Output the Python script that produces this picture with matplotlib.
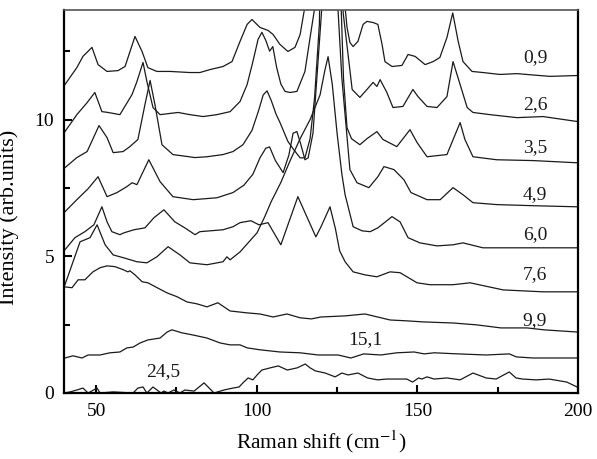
import numpy as np
import matplotlib.pyplot as plt
from matplotlib.ticker import MultipleLocator

# Raman spectra at increasing pressure (GPa), stacked with offsets
labels = ['0,9', '2,6', '3,5', '4,9', '6,0', '7,6', '9,9', '15,1', '24,5']

x_09 = [40.3, 44.0, 45.9, 48.7, 50.6, 53.4, 56.8, 59.0, 62.1, 64.3, 66.1, 68.9, 73.0, 76.1, 79.2, 82.3,
        85.5, 89.5, 92.3, 94.8, 97.0, 98.5, 101.0, 103.5, 105.1, 107.2, 109.7, 111.9, 113.5, 115.0,
        122.0, 127.5, 128.1, 129.0, 130.0, 131.5, 133.1, 134.3, 136.2, 137.7,
        139.0, 139.9, 142.1, 145.2, 147.1, 149.3, 152.4, 154.9, 157.0, 159.2, 161.0, 162.7, 164.2,
        167.0, 170.4, 175.7, 181.0, 186.0, 191.3, 199.7]
y_09 = [11.28, 11.90, 12.31, 12.64, 12.01, 11.76, 11.79, 11.94, 13.04, 12.49, 11.90, 11.76, 11.76, 11.74,
        11.72, 11.72, 11.83, 11.94, 12.12, 12.86, 13.48, 13.66, 13.37, 13.26, 13.11, 12.75, 12.49, 12.64,
        13.11, 14.14, 40.0, 14.10, 13.37, 12.82, 12.67, 12.86, 13.48, 13.59, 13.55,
        13.48, 12.75, 12.12, 11.94, 11.98, 12.38, 12.31, 12.01, 12.12, 12.27, 13.00, 13.90, 12.86, 12.12,
        11.76, 11.72, 11.65, 11.68, 11.63, 11.58, 11.61]

x_26 = [40.3, 44.0, 47.2, 49.6, 51.8, 53.7, 57.4, 61.2, 62.7, 64.6, 65.8, 67.7, 69.9, 75.5, 79.2, 83.3,
        87.6, 91.7, 94.8, 97.0, 98.8, 100.4, 101.6, 102.8, 104.0, 105.0, 106.2, 107.5, 108.8, 110.4,
        112.5, 115.0, 116.6, 118.1, 122.3, 126.9, 129.7, 132.1, 134.3, 136.2, 137.4, 138.4, 140.5, 142.4,
        145.5, 148.6, 150.2, 153.0, 156.1, 159.2, 161.1, 163.3, 165.5, 167.3, 172.6, 181.0, 189.1, 199.7]
y_26 = [9.56, 10.18, 10.62, 10.99, 10.29, 10.26, 10.18, 10.92, 11.39, 12.09, 11.39, 10.44, 10.18, 10.26,
        10.18, 10.11, 10.18, 10.29, 10.66, 11.28, 12.12, 12.93, 13.19, 12.90, 12.50, 12.67, 11.90, 11.30,
        11.03, 10.99, 11.03, 11.76, 13.00, 14.14, 40.0, 13.90, 11.10, 10.81, 11.10, 11.36, 11.21, 11.46,
        10.99, 10.44, 10.48, 11.10, 10.84, 10.48, 10.44, 10.84, 12.12, 11.28, 10.44, 10.26, 10.18, 10.07,
        10.11, 9.93]

x_35 = [40.3, 44.0, 47.2, 50.9, 53.4, 55.3, 58.4, 60.5, 63.0, 65.2, 66.8, 68.3, 70.5, 73.9, 80.8, 84.5,
        89.5, 92.6, 95.7, 98.5, 100.5, 102.0, 103.2, 104.5, 106.0, 107.2, 109.7, 111.5, 113.5, 115.0,
        116.6, 118.0, 119.5, 122.6, 126.3, 127.0, 128.1, 129.5, 132.1, 134.3, 137.4, 139.3, 143.6, 147.7,
        149.9, 153.0, 159.2, 163.3, 164.8, 167.3, 174.7, 186.0, 199.6]
y_35 = [8.24, 8.61, 8.83, 9.78, 9.34, 8.79, 8.83, 9.01, 9.27, 10.55, 11.43, 10.55, 9.08, 8.72, 8.61, 8.64,
        8.72, 8.83, 9.08, 9.60, 10.30, 10.90, 11.05, 10.70, 10.20, 9.90, 9.20, 8.90, 8.60, 8.60, 9.30,
        10.80, 13.50, 40.0, 14.00, 11.50, 9.70, 9.30, 9.08, 9.30, 9.56, 9.27, 9.01, 9.63, 9.16, 8.64, 8.72,
        9.89, 9.27, 8.64, 8.53, 8.50, 8.42]

x_49 = [40.3, 44.0, 47.5, 50.6, 53.4, 56.5, 59.6, 61.2, 62.7, 66.4, 69.9, 73.9, 80.2, 87.6, 92.6, 96.0,
        98.8, 101.0, 102.8, 104.0, 105.8, 108.2, 110.0, 111.3, 112.5, 113.7, 115.0, 116.0, 117.5, 119.0,
        120.2, 122.8, 125.3, 126.5, 128.0, 129.0, 131.2, 134.9, 137.7, 139.6, 142.7, 145.8, 148.0, 153.0,
        157.1, 161.1, 164.2, 167.3, 174.7, 186.0, 199.6]
y_49 = [6.63, 7.07, 7.47, 7.91, 7.18, 7.33, 7.55, 7.69, 7.62, 8.53, 7.73, 7.18, 7.07, 7.14, 7.33, 7.60,
        8.00, 8.60, 8.95, 9.00, 8.50, 8.06, 8.70, 9.50, 9.56, 9.10, 8.53, 8.60, 9.50, 12.0, 14.0, 40.0,
        14.0, 11.50, 9.50, 8.17, 7.69, 7.51, 7.91, 8.28, 8.17, 7.80, 7.33, 7.07, 7.07, 7.51, 7.25, 6.96,
        6.89, 6.85, 6.81]

x_60 = [40.3, 45.0, 48.1, 50.3, 52.8, 55.3, 58.4, 62.7, 65.8, 68.9, 72.4, 76.1, 79.2, 84.5, 89.5, 90.7,
        91.7, 94.8, 100.1, 102.5, 104.5, 107.5, 110.4, 113.5, 116.6, 119.7, 121.2, 122.2, 123.5, 125.0,
        126.5, 127.5, 130.0, 132.8, 135.3, 137.7, 142.1, 144.6, 147.1, 150.8, 156.1, 161.1, 164.2, 170.4,
        181.0, 199.7]
y_60 = [3.96, 5.53, 5.68, 6.15, 5.42, 5.05, 4.95, 4.80, 4.76, 4.98, 5.35, 5.05, 4.76, 4.69, 4.80, 4.98,
        4.87, 5.16, 5.86, 6.45, 7.00, 7.70, 8.50, 9.30, 10.0, 10.9, 11.8, 12.3, 11.3, 9.50, 8.00, 7.25,
        6.08, 5.93, 5.90, 6.04, 6.45, 6.26, 5.68, 5.49, 5.38, 5.42, 5.49, 5.31, 5.31, 5.31]

x_76 = [40.3, 43.4, 46.5, 49.3, 51.8, 53.4, 54.9, 57.4, 58.7, 61.8, 65.2, 68.0, 71.1, 74.5, 77.6, 80.8,
        82.3, 89.5, 92.6, 94.8, 98.2, 100.7, 103.5, 107.5, 112.8, 118.4, 120.0, 122.8, 124.5, 125.8,
        127.5, 130.0, 133.7, 137.4, 141.5, 144.6, 149.9, 153.9, 161.1, 166.4, 176.7, 189.1, 199.7]
y_76 = [5.24, 5.68, 5.90, 6.15, 6.81, 6.26, 5.90, 5.79, 5.86, 5.97, 6.04, 6.41, 6.70, 6.26, 6.04, 5.79,
        5.90, 5.97, 6.08, 6.23, 6.30, 6.15, 6.23, 5.42, 7.18, 5.71, 6.08, 6.81, 6.00, 5.20, 4.80, 4.43,
        4.32, 4.25, 4.43, 4.40, 4.03, 3.96, 3.96, 4.03, 3.77, 3.70, 3.70]

x_99 = [40.3, 42.5, 44.4, 46.5, 49.0, 51.2, 53.4, 55.9, 58.4, 59.9, 60.5, 62.1, 64.3, 66.1, 69.0, 72.1,
        75.2, 78.3, 81.4, 84.5, 87.9, 91.7, 97.0, 101.0, 105.1, 109.4, 113.5, 117.0, 120.0, 127.5,
        133.7, 141.5, 146.5, 151.8, 161.1, 168.6, 176.0, 184.1, 189.4, 199.7]
y_99 = [3.88, 3.85, 4.14, 4.14, 4.43, 4.58, 4.65, 4.62, 4.51, 4.43, 4.47, 4.32, 4.07, 4.03, 3.85, 3.66,
        3.52, 3.33, 3.26, 3.15, 3.30, 3.00, 2.93, 2.89, 2.78, 2.89, 2.75, 2.71, 2.78, 2.82, 2.89, 2.67,
        2.64, 2.60, 2.56, 2.49, 2.38, 2.38, 2.31, 2.23]

x_151 = [40.3, 42.8, 45.6, 47.5, 51.2, 54.3, 57.4, 59.6, 61.5, 63.7, 66.1, 69.9, 72.1, 73.6, 76.7, 80.2,
         84.5, 88.6, 91.7, 94.8, 97.0, 101.0, 107.2, 113.5, 119.1, 125.3, 129.3, 133.3, 138.6, 143.6,
         149.0, 152.1, 155.2, 162.7, 171.4, 178.6, 180.8, 186.0, 199.7]
y_151 = [1.28, 1.36, 1.28, 1.39, 1.39, 1.47, 1.50, 1.65, 1.68, 1.83, 1.94, 2.01, 2.23, 2.31, 2.20, 2.12,
         2.01, 1.83, 1.76, 1.76, 1.65, 1.58, 1.50, 1.47, 1.39, 1.39, 1.28, 1.43, 1.39, 1.47, 1.50, 1.43,
         1.47, 1.43, 1.39, 1.43, 1.32, 1.28, 1.28]

x_245 = [40.3, 41.9, 44.0, 45.9, 47.5, 50.3, 51.2, 55.3, 61.5, 63.0, 64.6, 65.8, 67.7, 70.2, 71.1, 72.4,
         74.2, 76.1, 77.6, 80.5, 83.6, 86.7, 89.8, 92.6, 94.5, 95.7, 97.3, 98.8, 100.1, 101.6, 104.2,
         106.7, 109.5, 112.6, 115.1, 116.6, 118.2, 121.3, 124.4, 126.5, 128.4, 131.5, 134.5, 137.6,
         140.4, 143.5, 146.7, 148.5, 150.4, 151.4, 153.0, 155.2, 159.2, 163.3, 167.3, 171.4, 174.5,
         178.6, 180.7, 182.7, 187.0, 191.0, 196.5, 199.7]
y_245 = [0.00, 0.04, 0.11, 0.18, 0.00, 0.18, 0.00, 0.04, 0.00, 0.18, 0.22, 0.00, 0.22, 0.00, 0.07,
         0.00, 0.11, 0.00, 0.11, 0.07, 0.37, 0.00, 0.11, 0.18, 0.22, 0.37, 0.55, 0.48, 0.66, 0.84, 0.92,
         0.99, 0.84, 0.92, 1.06, 0.92, 0.81, 0.73, 0.59, 0.73, 0.66, 0.73, 0.55, 0.48, 0.51, 0.51, 0.51,
         0.40, 0.55, 0.51, 0.59, 0.51, 0.55, 0.48, 0.73, 0.55, 0.51, 0.77, 0.55, 0.51, 0.48, 0.51, 0.40,
         0.22]

# label positions next to each trace
label_x = [186.6, 186.6, 186.6, 186.6, 186.6, 186.6, 186.6, 133.7, 70.8]
label_y = [12.27, 10.55, 8.97, 7.25, 5.79, 4.32, 2.64, 1.94, 0.77]

curves = [(x_09, y_09), (x_26, y_26), (x_35, y_35), (x_49, y_49), (x_60, y_60),
          (x_76, y_76), (x_99, y_99), (x_151, y_151), (x_245, y_245)]

plt.rcParams['font.family'] = ['Liberation Serif', 'DejaVu Serif']
plt.rcParams['mathtext.fontset'] = 'stix'

fig = plt.figure(figsize=(5.97, 4.59), dpi=100)
ax = fig.add_axes([0.1072, 0.1438, 0.861, 0.834])

for xs, ys in curves:
    ax.plot(xs, ys, color='#1a1a1a', lw=0.9)

for lab, lx, ly in zip(labels, label_x, label_y):
    ax.text(lx, ly, lab, fontsize=14, ha='center', va='center', color='#1a1a1a')

ax.set_xlim(40, 200)
ax.set_ylim(0, 14.0)
ax.xaxis.set_major_locator(MultipleLocator(50))
ax.xaxis.set_minor_locator(MultipleLocator(25))
ax.yaxis.set_major_locator(MultipleLocator(5))
ax.yaxis.set_minor_locator(MultipleLocator(2.5))
ax.tick_params(which='both', direction='in', top=False, right=False, labelsize=14, width=1.5, pad=7)
ax.tick_params(which='major', length=6)
ax.tick_params(which='minor', length=4)
for side in ['left', 'bottom', 'right']:
    ax.spines[side].set_linewidth(1.6)
ax.spines['top'].set_linewidth(1.2)
ax.spines['top'].set_color('#555555')

ax.set_xlabel('Raman shift (cm$^{-1}$)', fontsize=15.5, labelpad=6)
ax.set_ylabel('Intensity (arb.units)', fontsize=16)
ax.yaxis.set_label_coords(-0.088, 0.46)

fig.savefig('out.png', dpi=100)
